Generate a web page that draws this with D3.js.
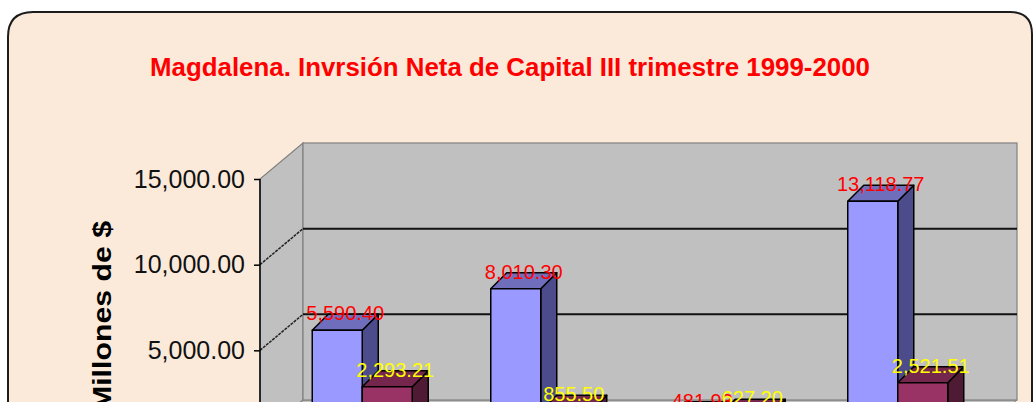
<!DOCTYPE html>
<html>
<head>
<meta charset="utf-8">
<script src="https://cdn.jsdelivr.net/npm/d3@7"></script>
<style>
  html, body { margin: 0; padding: 0; background: #ffffff; }
  svg { display: block; }
  text { font-family: "Liberation Sans", Arial, sans-serif; }
</style>
</head>
<body>
<div id="chart"></div>
<script>
// ---- data ----
const categories = ["Sociedades constituidas", "Sociedades reformadas", "Sociedades disueltas", "Inversión neta"];
const seriesNames = ["1999", "2000"];
const values1999 = [5590.40, 8010.30, 481.93, 13118.77];
const values2000 = [2293.21, 855.50, 627.20, 2521.51];
const yTicks = [0, 5000, 10000, 15000];
const titleText = "Magdalena. Invrsión Neta de Capital III trimestre 1999-2000";
const yTitle = "Millones de $";

// ---- layout ----
const W = 1034, H = 402;
const frontLeft = 260, frontRight = 974;
const wallDX = 43, wallDY = 36;          // full depth offset of the 3D box
const barShiftX = 13, barShiftY = 10;    // bars sit in the middle of the depth
const barDX = 16, barDY = 16;            // bar depth

const svg = d3.select("#chart").append("svg")
  .attr("width", W).attr("height", H);

// background panel with rounded border
const bgPath = d3.path();
(function () {
  const x0 = 8, y0 = 12, x1 = 1032, y1 = H + 40, r0 = 25, r1 = 22;
  bgPath.moveTo(x0, y1);
  bgPath.lineTo(x0, y0 + r0);
  bgPath.quadraticCurveTo(x0, y0, x0 + r0, y0);
  bgPath.lineTo(x1 - r1, y0);
  bgPath.quadraticCurveTo(x1, y0, x1, y0 + r1);
  bgPath.lineTo(x1, y1);
})();
svg.append("path").attr("d", bgPath.toString())
  .attr("fill", "#fbeada").attr("stroke", "#1c1c1c").attr("stroke-width", 2);

// scales
const y = d3.scaleLinear().domain([0, 15000]).range([436, 179]);
const x0 = d3.scaleBand().domain(categories).range([frontLeft, frontRight]).paddingInner(0).paddingOuter(0);
const x1 = d3.scaleBand().domain(seriesNames).range([0, x0.bandwidth()]).paddingInner(0).paddingOuter(0.785);

const yTop = y(15000), yZero = y(0);

// walls
const g = svg.append("g");
g.append("polygon")
  .attr("points", [[frontLeft, yZero], [frontLeft + wallDX, yZero - wallDY], [frontRight + wallDX, yZero - wallDY], [frontRight, yZero]].map(p => p.join(",")).join(" "))
  .attr("fill", "#c0c0c0").attr("stroke", "#808080").attr("stroke-width", 1);
g.append("polygon")
  .attr("points", [[frontLeft, yZero], [frontLeft, yTop], [frontLeft + wallDX, yTop - wallDY], [frontLeft + wallDX, yZero - wallDY]].map(p => p.join(",")).join(" "))
  .attr("fill", "#c0c0c0").attr("stroke", "#808080").attr("stroke-width", 1.2);
g.append("rect")
  .attr("x", frontLeft + wallDX).attr("y", yTop - wallDY)
  .attr("width", frontRight - frontLeft).attr("height", yZero - yTop)
  .attr("fill", "#c0c0c0").attr("stroke", "#808080").attr("stroke-width", 1.2);

// gridlines
const gridVals = yTicks.filter(v => v > 0 && v < 15000);
g.selectAll("line.gb").data(gridVals).join("line").attr("class", "gb")
  .attr("x1", frontLeft + wallDX).attr("x2", frontRight + wallDX)
  .attr("y1", d => y(d) - wallDY).attr("y2", d => y(d) - wallDY)
  .attr("stroke", "#111").attr("stroke-width", 2);
g.selectAll("line.gs").data(gridVals).join("line").attr("class", "gs")
  .attr("x1", frontLeft).attr("x2", frontLeft + wallDX)
  .attr("y1", d => y(d)).attr("y2", d => y(d) - wallDY)
  .attr("stroke", "#222").attr("stroke-width", 1.5).attr("stroke-dasharray", "3,1");

// axis
const axis = d3.axisLeft(y).tickValues(yTicks.filter(v => y(v) < H - 10))
  .tickSize(6).tickPadding(9).tickFormat(d3.format(",.2f"));
const ag = svg.append("g").attr("transform", `translate(${frontLeft},0)`).call(axis);
ag.select(".domain").remove();
ag.append("line").attr("x1", 0).attr("x2", 0).attr("y1", yTop).attr("y2", yZero)
  .attr("stroke", "#000").attr("stroke-width", 1.5);
ag.selectAll(".tick line").attr("stroke", "#000").attr("stroke-width", 1.5);
ag.selectAll(".tick text").attr("font-size", 25).attr("fill", "#111")
  .style("font-family", "'Liberation Sans', Arial, sans-serif");

// bars
const series = [
  { name: seriesNames[0], values: values1999, front: "#9999ff", top: "#6e6ebd", side: "#4c4c8c", label: "#ff0000" },
  { name: seriesNames[1], values: values2000, front: "#993366", top: "#74264d", side: "#4e1a34", label: "#ffff00" }
];
const yBase = yZero - barShiftY;
const barsG = svg.append("g");
const labelsG = svg.append("g");
const fmt = d3.format(",.2f");
categories.forEach((cat, ci) => {
  series.forEach(s => {
    const v = s.values[ci];
    const bx = x0(cat) + x1(s.name) + barShiftX;
    const bw = x1.bandwidth();
    const yt = y(v) - barShiftY;
    const bg = barsG.append("g").attr("stroke", "#000").attr("stroke-width", 1.5).attr("stroke-linejoin", "round");
    bg.append("polygon")
      .attr("points", [[bx + bw, yt], [bx + bw + barDX, yt - barDY], [bx + bw + barDX, yBase - barDY], [bx + bw, yBase]].map(p => p.join(",")).join(" "))
      .attr("fill", s.side);
    bg.append("polygon")
      .attr("points", [[bx, yt], [bx + barDX, yt - barDY], [bx + bw + barDX, yt - barDY], [bx + bw, yt]].map(p => p.join(",")).join(" "))
      .attr("fill", s.top);
    bg.append("rect").attr("x", bx).attr("y", yt).attr("width", bw).attr("height", Math.max(0, yBase - yt))
      .attr("fill", s.front);
    labelsG.append("text")
      .attr("x", bx + (bw + barDX) / 2).attr("y", yt - 10)
      .attr("text-anchor", "middle").attr("font-size", 20)
      .attr("fill", s.label).text(fmt(v));
  });
});

// title
svg.append("text").attr("x", 510).attr("y", 76).attr("text-anchor", "middle")
  .attr("font-size", 26).attr("font-weight", "bold").attr("fill", "#ff0000")
  .attr("textLength", 720).attr("lengthAdjust", "spacingAndGlyphs")
  .text(titleText);

// y-axis title
svg.append("text").attr("transform", "translate(111,411) rotate(-90)")
  .attr("text-anchor", "start").attr("font-size", 26).attr("font-weight", "bold").attr("fill", "#000")
  .attr("textLength", 190).attr("lengthAdjust", "spacingAndGlyphs")
  .text(yTitle);
</script>
</body>
</html>
